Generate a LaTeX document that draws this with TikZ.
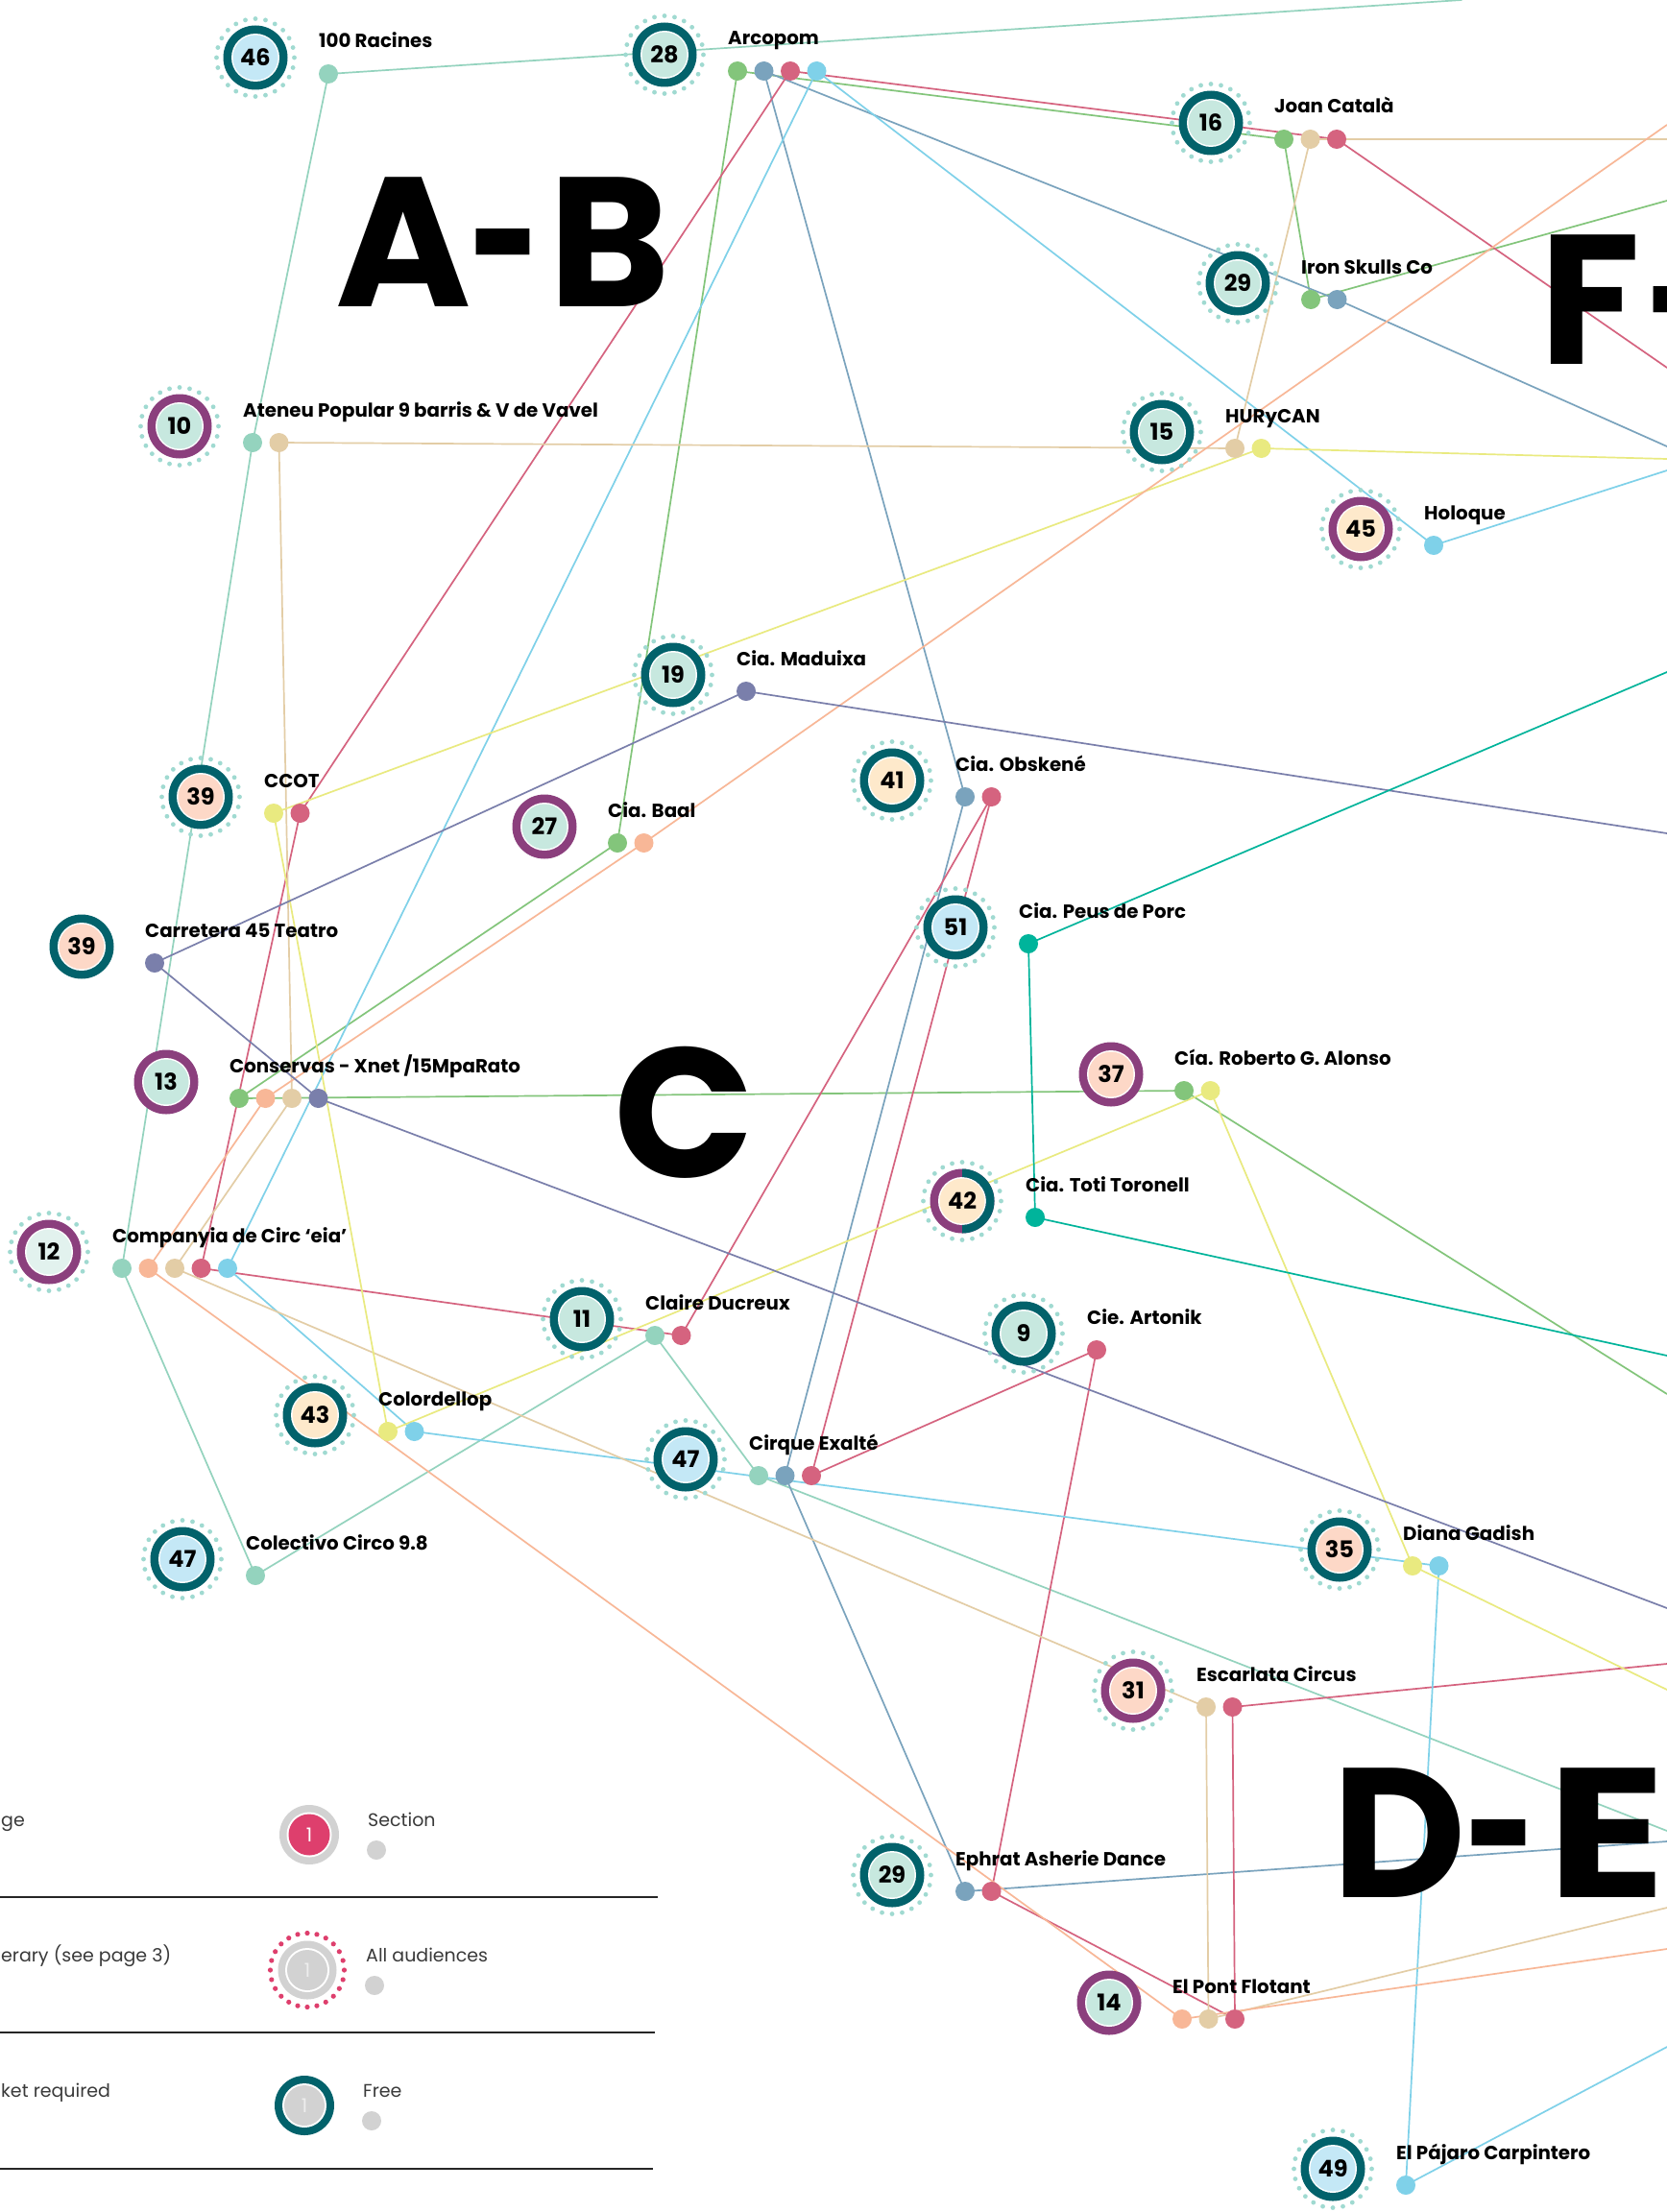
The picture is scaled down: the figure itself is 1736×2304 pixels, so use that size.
\documentclass[tikz,border=0pt]{standalone}
\usepackage{fontspec}
\setmainfont{Poppins}
\usetikzlibrary{calc}
\pgfdeclarelayer{bg}
\pgfsetlayers{bg,main}

\definecolor{ringteal}{HTML}{02626B}
\definecolor{ringpurple}{HTML}{8B3F7D}
\definecolor{fmint}{HTML}{C7E8DF}
\definecolor{fblue}{HTML}{C4E8F6}
\definecolor{fsalmon}{HTML}{FDD8C7}
\definecolor{fcream}{HTML}{FEE9CB}
\definecolor{fpale}{HTML}{E2F2EE}
\definecolor{ringdotc}{HTML}{A0DAD1}
\definecolor{cmint}{HTML}{94D3BE}
\definecolor{cgreen}{HTML}{83C57B}
\definecolor{csteel}{HTML}{7AA3BD}
\definecolor{cpink}{HTML}{D5637F}
\definecolor{csky}{HTML}{7FD1E9}
\definecolor{ctan}{HTML}{E3CDA6}
\definecolor{cyellow}{HTML}{E9EA80}
\definecolor{cpeach}{HTML}{F8B797}
\definecolor{cslate}{HTML}{7A7FAB}
\definecolor{cemerald}{HTML}{00B49B}
\definecolor{lgray}{HTML}{D2D2D2}
\definecolor{lpink}{HTML}{DE3F6D}
\definecolor{ltext}{HTML}{3A3A3A}

\tikzset{
  numtxt/.style={font=\bfseries\fontsize{24}{24}\selectfont, text=black, inner sep=0pt},
  lbltxt/.style={font=\bfseries\fontsize{19.8}{19.8}\selectfont, anchor=base west, inner sep=0pt, text=black},
  stdot/.style={circle, minimum size=20pt, inner sep=0pt, draw=none},
  conn/.style={line width=1.7pt, line join=round, line cap=round},
  bigtxt/.style={font=\bfseries\fontsize{192}{192}\selectfont, inner sep=0pt, text=black},
  legtxt/.style={font=\fontsize{19}{19}\selectfont, inner sep=0pt, text=ltext},
  legline/.style={line width=2pt, black!85},
  legdot/.style={circle, minimum size=20pt, inner sep=0pt, fill=lgray},
}
\newcommand\shorthy{\scalebox{0.66}[1]{-}}

\newcommand\station[9]{%
  \coordinate (#1) at (#2,#3);
  \ifnum#7=1\relax
    \foreach \a in {0,15,...,345}{\fill[ringdotc] ($(#1)+(\a:40.5)$) circle (2.4pt);}
  \fi
  \fill[#5] (#1) circle (33.5pt);
  \fill[white] (#1) circle (25pt);
  \fill[#6] (#1) circle (23.5pt);
  \node[numtxt] (#1-num) at (#1) {#4};
  \node[lbltxt] (#1-lbl) at ($(#1)+(66,-10)$) {#8};
  \foreach \c [count=\i] in {#9}{\node[stdot, fill=\c] (#1-\i) at ($(#1)+({76+27.5*(\i-1)},17)$) {};}
}

\begin{document}
\begin{tikzpicture}[x=1pt,y=-1pt]
\useasboundingbox (0,0) rectangle (1736,2304);
\begin{pgfonlayer}{bg}
\fill[white] (0,0) rectangle (1736,2304);
\end{pgfonlayer}

% big section letters
\node[bigtxt, anchor=base west] (lAB) at (349,319) {A\kern-1pt\shorthy\kern8pt B};
\node[bigtxt, anchor=base west] (lF) at (1603,379) {F\kern7pt\shorthy};
\node[bigtxt, anchor=base] (lC) at (713,1226) {C};
\node[bigtxt, anchor=base west] (lDE) at (1387,1976) {D\kern0pt\shorthy\kern11pt\scalebox{1.19}[1]{E}};

% stations
\station{r46}{266}{60}{46}{ringteal}{fblue}{1}{100 Racines}{cmint}
\station{arc}{692}{57}{28}{ringteal}{fmint}{1}{Arcopom}{cgreen,csteel,cpink,csky}
\station{joan}{1261}{128}{16}{ringteal}{fmint}{1}{Joan Català}{cgreen,ctan,cpink}
\station{iron}{1289}{295}{29}{ringteal}{fmint}{1}{Iron Skulls Co}{cgreen,csteel}
\station{aten}{187}{444}{10}{ringpurple}{fmint}{1}{Ateneu Popular 9 barris \& V de Vavel}{cmint,ctan}
\station{hury}{1210}{450}{15}{ringteal}{fmint}{1}{HURyCAN}{ctan,cyellow}
\station{holo}{1417}{551}{45}{ringpurple}{fcream}{1}{Holoque}{csky}
\station{madu}{701}{703}{19}{ringteal}{fmint}{1}{Cia. Maduixa}{cslate}
\station{ccot}{209}{830}{39}{ringteal}{fsalmon}{1}{CCOT}{cyellow,cpink}
\station{baal}{567}{861}{27}{ringpurple}{fmint}{0}{Cia. Baal}{cgreen,cpeach}
\station{obsk}{929}{813}{41}{ringteal}{fcream}{1}{Cia. Obskené}{csteel,cpink}
\station{carr}{85}{986}{39}{ringteal}{fsalmon}{0}{Carretera 45 Teatro}{cslate}
\station{peus}{995}{966}{51}{ringteal}{fblue}{1}{Cia. Peus de Porc}{cemerald}
\station{cons}{173}{1127}{13}{ringpurple}{fmint}{0}{Conservas - Xnet /15MpaRato}{cgreen,cpeach,ctan,cslate}
\station{robe}{1157}{1119}{37}{ringpurple}{fsalmon}{0}{Cía. Roberto G. Alonso}{cgreen,cyellow}
\station{toti}{1002}{1251}{42}{ringpurple}{fcream}{1}{Cia. Toti Toronell}{cemerald}
\fill[ringteal] ($(toti)+(0,-33.5)$) arc[start angle=90, end angle=-90, radius=33.5pt] -- ($(toti)+(0,25)$) arc[start angle=-90, end angle=90, radius=25pt] -- cycle;
\station{comp}{51}{1304}{12}{ringpurple}{fpale}{1}{Companyia de Circ ‘eia’}{cmint,cpeach,ctan,cpink,csky}
\station{clai}{606}{1374}{11}{ringteal}{fmint}{1}{Claire Ducreux}{cmint,cpink}
\station{arto}{1066}{1389}{9}{ringteal}{fmint}{1}{Cie. Artonik}{cpink}
\station{colo}{328}{1474}{43}{ringteal}{fcream}{1}{Colordellop}{cyellow,csky}
\station{cirq}{714}{1520}{47}{ringteal}{fblue}{1}{Cirque Exalté}{cmint,csteel,cpink}
\station{cole}{190}{1624}{47}{ringteal}{fblue}{1}{Colectivo Circo 9.8}{cmint}
\station{dian}{1395}{1614}{35}{ringteal}{fsalmon}{1}{Diana Gadish}{cyellow,csky}
\station{esca}{1180}{1761}{31}{ringpurple}{fsalmon}{1}{Escarlata Circus}{ctan,cpink}
\station{ephr}{929}{1953}{29}{ringteal}{fmint}{1}{Ephrat Asherie Dance}{csteel,cpink}
\station{pont}{1155}{2086}{14}{ringpurple}{fmint}{0}{El Pont Flotant}{cpeach,ctan,cpink}
\station{paja}{1388}{2259}{49}{ringteal}{fblue}{1}{El Pájaro Carpintero}{csky}

% free ends of the lines
\coordinate (mintT) at (1522,0);
\coordinate (mintE) at (1736,1907);
\coordinate (skyE1) at (1736,490);
\coordinate (skyE2) at (1736,2132);
\coordinate (steelE1) at (1736,465);
\coordinate (steelE2) at (1736,1918);
\coordinate (pinkE1) at (1736,383);
\coordinate (pinkE2) at (1736,1733);
\coordinate (greenE1) at (1736,209);
\coordinate (greenE2) at (1736,1452);
\coordinate (tanE1) at (1736,145);
\coordinate (tanE2) at (1736,1987);
\coordinate (yelE1) at (1736,478);
\coordinate (yelE2) at (1736,1760);
\coordinate (peachE1) at (1736,130);
\coordinate (peachE2) at (1736,2030);
\coordinate (slateE1) at (1736,868);
\coordinate (slateE2) at (1736,1675);
\coordinate (emE1) at (1736,700);
\coordinate (emE2) at (1736,1412);

\begin{pgfonlayer}{bg}
\draw[conn, cmint] (mintT) -- (r46-1.center) -- (aten-1.center) -- (comp-1.center) -- (cole-1.center) -- (clai-1.center) -- (cirq-1.center) -- (mintE);
\draw[conn, cgreen] (greenE1) -- (iron-1.center) -- (joan-1.center) -- (arc-1.center) -- (baal-1.center) -- (cons-1.center) -- (robe-1.center) -- (greenE2);
\draw[conn, csteel] (steelE1) -- (iron-2.center) -- (arc-2.center) -- (obsk-1.center) -- (cirq-2.center) -- (ephr-1.center) -- (steelE2);
\draw[conn, cpink] (pinkE1) -- (joan-3.center) -- (arc-3.center) -- (ccot-2.center) -- (comp-4.center) -- (clai-2.center) -- (obsk-2.center) -- (cirq-3.center) -- (arto-1.center) -- (ephr-2.center) -- (pont-3.center) -- (esca-2.center) -- (pinkE2);
\draw[conn, csky] (skyE1) -- (holo-1.center) -- (arc-4.center) -- (comp-5.center) -- (colo-2.center) -- (dian-2.center) -- (paja-1.center) -- (skyE2);
\draw[conn, ctan] (tanE1) -- (joan-2.center) -- (hury-1.center) -- (aten-2.center) -- (cons-3.center) -- (comp-3.center) -- (esca-1.center) -- (pont-2.center) -- (tanE2);
\draw[conn, cyellow] (yelE1) -- (hury-2.center) -- (ccot-1.center) -- (colo-1.center) -- (robe-2.center) -- (dian-1.center) -- (yelE2);
\draw[conn, cpeach] (peachE1) -- (baal-2.center) -- (cons-2.center) -- (comp-2.center) -- (pont-1.center) -- (peachE2);
\draw[conn, cslate] (slateE1) -- (madu-1.center) -- (carr-1.center) -- (cons-4.center) -- (slateE2);
\draw[conn, cemerald] (emE1) -- (peus-1.center) -- (toti-1.center) -- (emE2);
\end{pgfonlayer}

% legend
\draw[legline] (0,1976) -- (685,1976);
\draw[legline] (0,2117) -- (682,2117);
\draw[legline] (0,2259) -- (680,2259);

\node[legtxt, anchor=base west] (lg1) at (1,1902) {ge};
\node[legtxt, anchor=base west] (lg2) at (1,2043) {erary (see page 3)};
\node[legtxt, anchor=base west] (lg3) at (1,2184) {ket required};

\coordinate (ic1) at (322,1911);
\fill[lgray] (ic1) circle (31pt);
\fill[white] (ic1) circle (23.5pt);
\fill[lpink] (ic1) circle (21.5pt);
\node[font=\fontsize{20}{20}\selectfont, text=white, inner sep=0pt] (ic1n) at (ic1) {1};
\node[legtxt, anchor=base west] (ic1t) at (383,1902) {Section};
\node[legdot] (ic1d) at (392,1927) {};

\coordinate (ic2) at (320,2052);
\foreach \a in {0,15,...,345}{\fill[lpink] ($(ic2)+(\a:38.5)$) circle (2.6pt);}
\fill[lgray] (ic2) circle (30.5pt);
\fill[white] (ic2) circle (23pt);
\fill[lgray] (ic2) circle (21pt);
\node[font=\fontsize{20}{20}\selectfont, text=white!93!black, inner sep=0pt] (ic2n) at (ic2) {1};
\node[legtxt, anchor=base west] (ic2t) at (381,2043) {All audiences};
\node[legdot] (ic2d) at (390,2068) {};

\coordinate (ic3) at (317,2193);
\fill[ringteal] (ic3) circle (31pt);
\fill[white] (ic3) circle (23pt);
\fill[lgray] (ic3) circle (21pt);
\node[font=\fontsize{20}{20}\selectfont, text=white!93!black, inner sep=0pt] (ic3n) at (ic3) {1};
\node[legtxt, anchor=base west] (ic3t) at (378,2184) {Free};
\node[legdot] (ic3d) at (387,2209) {};
\end{tikzpicture}
\end{document}
